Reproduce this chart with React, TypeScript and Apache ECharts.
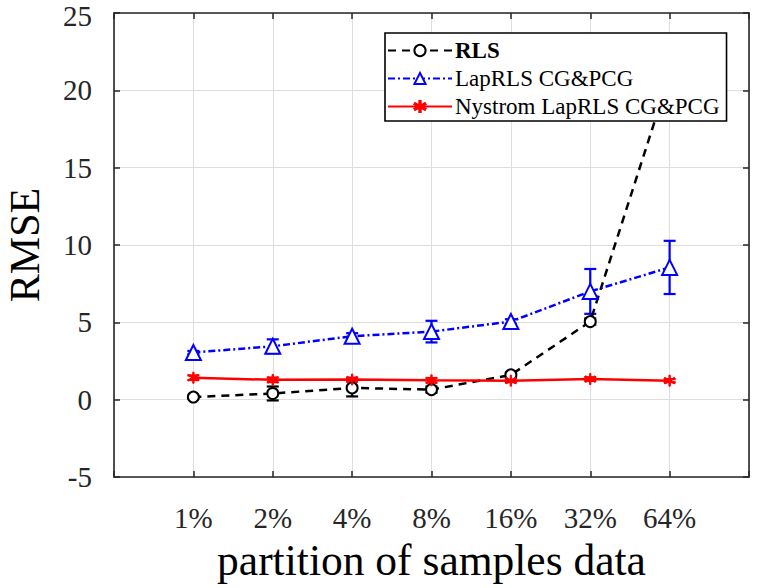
import React, { useEffect, useRef } from "react";
import * as echarts from "echarts";

const categories = ["1%", "2%", "4%", "8%", "16%", "32%", "64%"];
const yTicks = [-5, 0, 5, 10, 15, 20, 25];

const rlsMean = [0.17, 0.4, 0.76, 0.65, 1.6, 5.05, 21.0];
const rlsErr = [0.08, 0.45, 0.55, 0.2, 0.15, 0.2, 0.3];
const lapMean = [3.05, 3.45, 4.1, 4.4, 5.05, 7.0, 8.55];
const lapErr = [0.1, 0.45, 0.2, 0.7, 0.15, 1.45, 1.72];
const nysMean = [1.42, 1.28, 1.3, 1.25, 1.23, 1.33, 1.23];
const nysErr = [0.15, 0.15, 0.12, 0.15, 0.1, 0.12, 0.1];

const FONT = "'Liberation Serif', 'Times New Roman', serif";
const AXIS_COLOR = "#262626";
const GRID_COLOR = "#dedede";

const ASTERISK =
  "path://M4.5,0L5.5,0L5.5,3.6L8.6,1.8L9.1,2.7L6,4.5L9.1,6.3L8.6,7.2L5.5,5.4L5.5,9L4.5,9L4.5,5.4L1.4,7.2L0.9,6.3L4,4.5L0.9,2.7L1.4,1.8L4.5,3.6Z";

function lineData(mean: number[]) {
  return categories.map((_, i) => [i + 1, mean[i]]);
}
function errData(mean: number[], err: number[]) {
  return categories.map((_, i) => [i + 1, mean[i] - err[i], mean[i] + err[i]]);
}

function errSeries(name: string, mean: number[], err: number[], color: string) {
  return {
    name,
    type: "custom",
    data: errData(mean, err),
    encode: { x: 0, y: [1, 2] },
    z: 2,
    renderItem: (_params: any, api: any) => {
      const x = api.value(0);
      const p1 = api.coord([x, api.value(1)]);
      const p2 = api.coord([x, api.value(2)]);
      const w = 6;
      const style = { stroke: color, lineWidth: 2.2 };
      return {
        type: "group",
        children: [
          { type: "line", shape: { x1: p1[0], y1: p1[1], x2: p2[0], y2: p2[1] }, style },
          { type: "line", shape: { x1: p1[0] - w, y1: p1[1], x2: p1[0] + w, y2: p1[1] }, style },
          { type: "line", shape: { x1: p2[0] - w, y1: p2[1], x2: p2[0] + w, y2: p2[1] }, style },
        ],
      };
    },
  };
}

export default function App() {
  const ref = useRef<HTMLDivElement>(null);

  useEffect(() => {
    if (!ref.current) return;
    const chart = echarts.init(ref.current, undefined, { renderer: "svg" });
    const axisLine = { show: true, onZero: false, lineStyle: { color: AXIS_COLOR, width: 1.6 } };
    const axisTick = { show: true, inside: true, length: 6, lineStyle: { color: AXIS_COLOR, width: 1.5 } };
    const yMax = yTicks[yTicks.length - 1];
    chart.setOption({
      animation: false,
      backgroundColor: "#fff",
      textStyle: { fontFamily: FONT },
      grid: { left: 114, right: 8, top: 13, bottom: 111, containLabel: false, outerBoundsMode: "none" },
      legend: {
        orient: "vertical",
        left: 385,
        top: 33,
        z: 10,
        padding: [5, 7, 2, 2],
        itemGap: 3,
        itemWidth: 64,
        itemHeight: 14,
        backgroundColor: "#fff",
        borderColor: "#000",
        borderWidth: 1.6,
        borderRadius: 0,
        textStyle: { fontFamily: FONT, fontSize: 23, color: "#000", lineHeight: 25, padding: [0, 0, 0, -2] },
        data: [
          { name: "RLS", textStyle: { fontWeight: "bold" } },
          { name: "LapRLS CG&PCG" },
          { name: "Nystrom LapRLS CG&PCG" },
        ],
      },
      xAxis: [
        {
          type: "value",
          min: 0,
          max: 8,
          interval: 1,
          position: "bottom",
          axisLine,
          axisTick,
          splitLine: { show: true, lineStyle: { color: GRID_COLOR, width: 1 } },
          axisLabel: {
            fontFamily: FONT,
            fontSize: 29,
            color: "#262626",
            margin: 26,
            formatter: (v: number) => (v >= 1 && v <= categories.length ? categories[v - 1] : ""),
          },
          name: "partition of samples data",
          nameLocation: "middle",
          nameGap: 61,
          nameTextStyle: { fontFamily: FONT, fontSize: 43.5, color: "#000" },
        },
        {
          type: "value",
          min: 0,
          max: 8,
          interval: 1,
          position: "top",
          axisLine,
          axisTick,
          splitLine: { show: false },
          axisLabel: { show: false },
        },
      ],
      yAxis: [
        {
          type: "value",
          min: yTicks[0],
          max: yMax,
          interval: 5,
          position: "left",
          axisLine,
          axisTick,
          splitLine: { show: true, lineStyle: { color: GRID_COLOR, width: 1 } },
          axisLabel: {
            fontFamily: FONT,
            fontSize: 29,
            lineHeight: 22,
            color: "#262626",
            margin: 22,
            formatter: (v: number) => (v === yMax ? `{top|${v}}` : `${v}`),
            rich: {
              top: {
                fontFamily: FONT,
                fontSize: 29,
                lineHeight: 16,
                color: "#262626",
                padding: [6, 0, 0, 0],
              },
            },
          },
          name: "RMSE",
          nameLocation: "middle",
          nameGap: 70,
          nameTextStyle: { fontFamily: FONT, fontSize: 42, lineHeight: 38, color: "#000" },
        },
        {
          type: "value",
          min: yTicks[0],
          max: yMax,
          interval: 5,
          position: "right",
          axisLine,
          axisTick,
          splitLine: { show: false },
          axisLabel: { show: false },
        },
      ],
      series: [
        {
          name: "RLS",
          type: "line",
          data: lineData(rlsMean),
          symbol: "emptyCircle",
          symbolSize: 11,
          z: 3,
          itemStyle: { color: "#000", borderColor: "#000", borderWidth: 2.2 },
          lineStyle: { color: "#000", width: 2.5, type: [8, 6] },
        },
        {
          name: "LapRLS CG&PCG",
          type: "line",
          data: lineData(lapMean),
          symbol: "emptyTriangle",
          symbolSize: 15,
          z: 3,
          itemStyle: { color: "#0000ff", borderColor: "#0000ff", borderWidth: 2.2 },
          lineStyle: { color: "#0000ff", width: 2.5, type: [7, 3, 2, 3] },
        },
        {
          name: "Nystrom LapRLS CG&PCG",
          type: "line",
          data: lineData(nysMean),
          symbol: ASTERISK,
          symbolSize: 11,
          z: 3,
          itemStyle: { color: "#ff0000", borderColor: "#ff0000", borderWidth: 1 },
          lineStyle: { color: "#ff0000", width: 2.5, type: "solid" },
        },
        errSeries("RLS err", rlsMean, rlsErr, "#000"),
        errSeries("LapRLS err", lapMean, lapErr, "#0000ff"),
        errSeries("Nystrom err", nysMean, nysErr, "#ff0000"),
      ],
    });
    return () => chart.dispose();
  }, []);

  return (
    <div
      ref={ref}
      style={{ position: "absolute", left: 0, top: 0, width: 757, height: 588 }}
    />
  );
}
